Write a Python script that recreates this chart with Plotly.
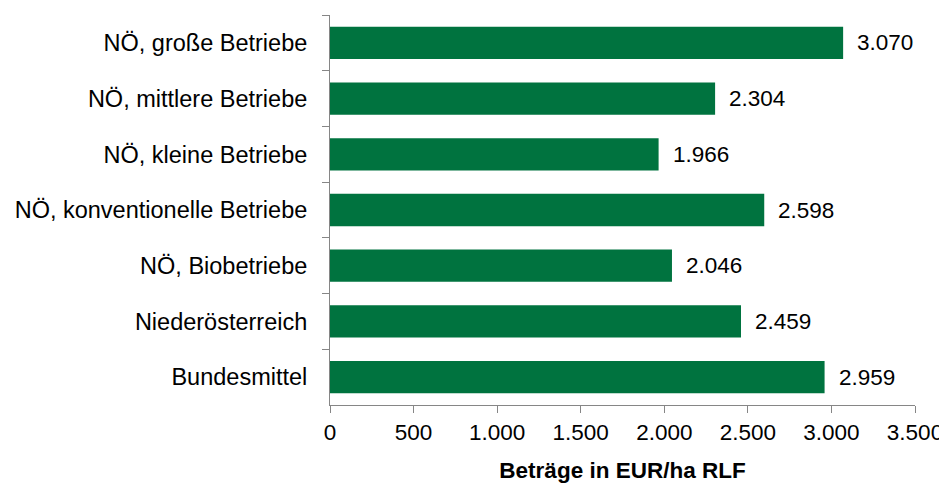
import plotly.graph_objects as go

categories = [
    "NÖ, große Betriebe",
    "NÖ, mittlere Betriebe",
    "NÖ, kleine Betriebe",
    "NÖ, konventionelle Betriebe",
    "NÖ, Biobetriebe",
    "Niederösterreich",
    "Bundesmittel",
]
values = [3070, 2304, 1966, 2598, 2046, 2459, 2959]
x_ticks = [0, 500, 1000, 1500, 2000, 2500, 3000, 3500]

FONT = "Liberation Sans, Arial, sans-serif"
FS = 22.5

fig = go.Figure(go.Bar(
    x=values,
    y=categories,
    orientation="h",
    marker=dict(color="#00733F", line=dict(width=0)),
    hoverinfo="x+y",
))

for c, v in zip(categories, values):
    fig.add_annotation(
        x=v, y=c, xref="x", yref="y",
        text=f"{v:,}".replace(",", "."),
        showarrow=False, xanchor="left", yanchor="middle",
        xshift=12, font=dict(size=FS, color="#000000", family=FONT),
    )

# page body has an 8px default margin; compensate so plot sits where the reference does
fig.update_layout(
    width=947,
    height=487,
    separators=",.",
    margin=dict(l=317, r=40, t=7, b=90),
    plot_bgcolor="white",
    paper_bgcolor="white",
    font=dict(family=FONT, size=FS, color="#000000"),
    bargap=0.42,
    showlegend=False,
    xaxis=dict(
        range=[0, 3500],
        tickvals=x_ticks,
        tickformat=",.0f",
        showgrid=False,
        zeroline=False,
        showline=True,
        linecolor="#868686",
        linewidth=1,
        ticks="outside",
        ticklen=7,
        tickcolor="#868686",
        tickfont=dict(size=FS),
        title=dict(text="<b>Beträge in EUR/ha RLF</b>", font=dict(size=FS), standoff=18),
    ),
    yaxis=dict(
        autorange="reversed",
        showgrid=False,
        showline=True,
        linecolor="#868686",
        linewidth=1,
        ticks="outside",
        tickson="boundaries",
        ticklen=7,
        tickcolor="#868686",
        tickfont=dict(size=23.5),
        ticklabelstandoff=17,
    ),
)

fig.write_html("out.html")
